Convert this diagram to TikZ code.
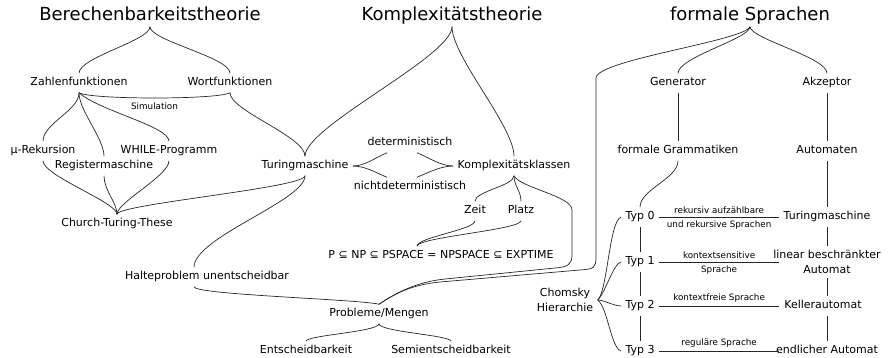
\documentclass[tikz,border=0pt]{standalone}
\usepackage{fontspec}
\setmainfont{DejaVu Sans}
\begin{document}
\begin{tikzpicture}[x=1pt,y=-1pt,
  ttl/.style={font=\fontsize{18}{20}\selectfont, text height=13pt, text depth=4pt, inner sep=2pt},
  txt/.style={font=\fontsize{11}{15}\selectfont, text height=8pt, text depth=2.5pt, inner sep=3pt, outer sep=1.5pt},
  txtm/.style={font=\fontsize{11}{15}\selectfont, align=center, inner sep=3pt, outer sep=1.5pt},
  sml/.style={font=\fontsize{8.8}{10}\selectfont, inner sep=1.5pt},
  con/.style={line width=0.7pt, draw=black!85}]
\useasboundingbox (0,0) rectangle (890,358);
% titles
\node[ttl] (berech) at (150,16) {Berechenbarkeitstheorie};
\node[ttl] (komplex) at (452,16) {Komplexitätstheorie};
\node[ttl] (formal) at (750,16) {formale Sprachen};
% left part
\node[txt] (zahl) at (79,83) {Zahlenfunktionen};
\node[txt] (wort) at (230,83) {Wortfunktionen};
\node[txt] (mu) at (43,151) {μ-Rekursion};
\node[txt] (while) at (169,151) {WHILE-Programm};
\node[txt] (reg) at (104,166) {Registermaschine};
\node[txt] (church) at (117,224) {Church-Turing-These};
\node[txt] (turing) at (305,166) {Turingmaschine};
\node[txt] (det) at (410,143) {deterministisch};
\node[txt] (ndet) at (410,187) {nichtdeterministisch};
\node[txt] (kk) at (514,166) {Komplexitätsklassen};
\node[txt] (zeit) at (475,211) {Zeit};
\node[txt] (platz) at (521,211) {Platz};
\node[txt] (pnp) at (441,256) {P ⊆ NP ⊆ PSPACE = NPSPACE ⊆ EXPTIME};
\node[txt] (halte) at (207,277) {Halteproblem unentscheidbar};
\node[txt] (prob) at (379,314) {Probleme/Mengen};
\node[txt] (ent) at (306,351) {Entscheidbarkeit};
\node[txt] (semi) at (451,351) {Semientscheidbarkeit};
% right part
\node[txt] (gen) at (678,83) {Generator};
\node[txt] (akz) at (827,83) {Akzeptor};
\node[txt] (gram) at (678,151) {formale Grammatiken};
\node[txt] (autom) at (827,151) {Automaten};
\node[txt] (typ0) at (640,217) {Typ 0};
\node[txt] (typ1) at (640,262) {Typ 1};
\node[txt] (typ2) at (640,306) {Typ 2};
\node[txt] (typ3) at (640,351) {Typ 3};
\node[txt] (tm2) at (827,217) {Turingmaschine};
\node[txtm] (lba) at (827,262) {linear beschränkter\\Automat};
\node[txt] (keller) at (823,306) {Kellerautomat};
\node[txt] (endl) at (827,351) {endlicher Automat};
\node[txtm] (chom) at (565,300) {Chomsky\\Hierarchie};
% waypoints
\coordinate (k1) at (572,210);
\coordinate (k2) at (572,255);
\coordinate (k3) at (555,268);
\coordinate (k4) at (445,279);
\coordinate (f1) at (596,78);
\coordinate (f2) at (596,257);
\coordinate (f3) at (580,270);
\coordinate (f4) at (440,282);
% Berechenbarkeitstheorie
\draw[con] (berech.south) .. controls +(0,14) and +(0,-16) .. (zahl.north);
\draw[con] (berech.south) .. controls +(0,14) and +(0,-16) .. (wort.north);
\draw[con] (zahl.south) .. controls +(12,7) and +(-12,7) .. node[sml, below=2.5pt] {Simulation} (wort.south);
\draw[con] (zahl.south) .. controls +(0,18) and +(0,-18) .. (mu.north);
\draw[con] (zahl.south) .. controls +(0,18) and +(0,-18) .. (reg.north);
\draw[con] (zahl.south) .. controls +(20,18) and +(0,-15) .. (while.north);
\draw[con] (mu.south) .. controls +(0,15) and +(0,-12) .. (church.north);
\draw[con] (reg.south) .. controls +(0,15) and +(0,-12) .. (church.north);
\draw[con] (while.south) .. controls +(0,15) and +(0,-12) .. (church.north);
\draw[con] (turing.south) .. controls +(0,12) and +(0,-10) .. (church.north);
\draw[con] (wort.south) .. controls +(0,18) and +(0,-20) .. (turing.north);
% Komplexitaetstheorie
\draw[con] (komplex.south) .. controls +(0,30) and +(0,-30) .. (turing.north);
\draw[con] (komplex.south) .. controls +(0,30) and +(0,-30) .. (kk.north);
\draw[con] (turing.east) .. controls +(12,0) and +(-12,5) .. ([xshift=-23pt]det.south);
\draw[con] (turing.east) .. controls +(12,0) and +(-12,-5) .. ([xshift=-23pt]ndet.north);
\draw[con] ([xshift=7pt]det.south) .. controls +(12,5) and +(-12,0) .. (kk.west);
\draw[con] ([xshift=7pt]ndet.north) .. controls +(12,-5) and +(-12,0) .. (kk.west);
\draw[con] (kk.south) .. controls +(0,10) and +(0,-10) .. (zeit.north);
\draw[con] (kk.south) .. controls +(0,10) and +(0,-10) .. (platz.north);
\draw[con] (zeit.south) .. controls +(0,9) and +(0,-9) .. ([xshift=-24pt]pnp.north);
\draw[con] (platz.south) .. controls +(0,9) and +(0,-9) .. ([xshift=-24pt]pnp.north);
\draw[con] (kk.south) .. controls +(6,12) and +(0,-14) .. (k1) -- (k2)
  .. controls +(0,10) and +(12,-1) .. (k3) -- (k4)
  .. controls +(-30,3) and +(15,-10) .. (prob.north);
\draw[con] (turing.south) .. controls +(0,25) and +(0,-30) .. ([xshift=-13pt]halte.north);
\draw[con] ([xshift=-13pt]halte.south) .. controls +(0,8) and +(-20,-5) .. (prob.north);
\draw[con] (prob.south) .. controls +(0,8) and +(0,-6) .. (ent.north);
\draw[con] (prob.south) .. controls +(0,8) and +(0,-6) .. (semi.north);
% formale Sprachen
\draw[con] (formal.south) .. controls +(-5,14) and +(0,-18) .. (f1) -- (f2)
  .. controls +(0,11) and +(14,-1) .. (f3) -- (f4)
  .. controls +(-30,3) and +(15,-10) .. (prob.north);
\draw[con] (formal.south) .. controls +(0,12) and +(0,-16) .. (gen.north);
\draw[con] (formal.south) .. controls +(0,12) and +(0,-16) .. (akz.north);
\draw[con] (gen.south) -- (gram.north);
\draw[con] (akz.south) -- (autom.north);
\draw[con] (gram.south) .. controls +(0,18) and +(0,-18) .. (typ0.north);
\draw[con] (autom.south) -- (tm2.north);
\draw[con] (typ0.south) -- (typ1.north);
\draw[con] (typ1.south) -- (typ2.north);
\draw[con] (typ2.south) -- (typ3.north);
\draw[con] (tm2.south) -- (lba.north);
\draw[con] (lba.south) -- (lba.south |- keller.north);
\draw[con] (keller.south -| lba.south) -- (lba.south |- endl.north);
\draw[con] (typ0.east) -- node[sml, above=1.5pt] {rekursiv aufzählbare} node[sml, below=1.5pt] {und rekursive Sprachen} (typ0.east -| tm2.west);
\draw[con] (typ1.east) -- node[sml, above=1.5pt] {kontextsensitive} node[sml, below=1.5pt] {Sprache} (typ1.east -| tm2.west);
\draw[con] (typ2.east) -- node[sml, above=1.5pt] {kontextfreie Sprache} (typ2.east -| tm2.west);
\draw[con] (typ3.east) -- node[sml, above=1.5pt] {reguläre Sprache} (typ3.east -| tm2.west);
\draw[con] (chom.east) .. controls +(10,-10) and +(-12,5) .. (typ0.west);
\draw[con] (chom.east) .. controls +(8,-8) and +(-8,2) .. (typ1.west);
\draw[con] (chom.east) .. controls +(6,0) and +(-7,0) .. (typ2.west);
\draw[con] (chom.east) .. controls +(10,8) and +(-10,-3) .. (typ3.west);
\end{tikzpicture}
\end{document}
